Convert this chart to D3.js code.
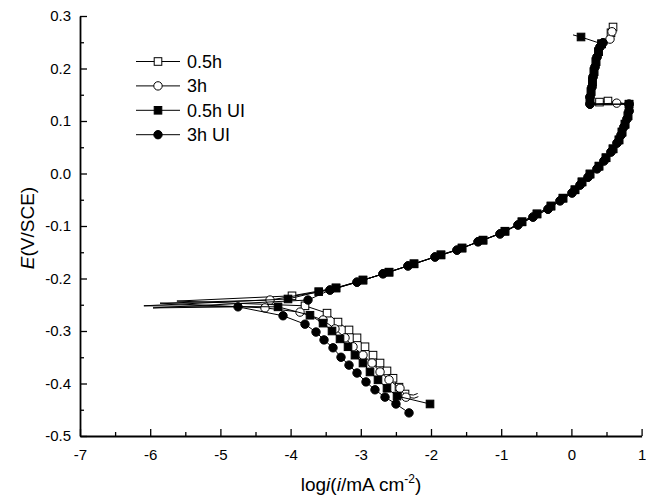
<!DOCTYPE html>
<html>
<head>
<meta charset="utf-8">
<script src="https://cdn.jsdelivr.net/npm/d3@7/dist/d3.min.js"></script>
<style>
  html, body { margin: 0; padding: 0; background: #fff; }
  svg { display: block; }
  text { font-family: "Liberation Sans", Arial, sans-serif; fill: #000; }
</style>
</head>
<body>
<svg id="chart" width="646" height="496"></svg>
<script>
// Axis ticks
const xTicks = [-7, -6, -5, -4, -3, -2, -1, 0, 1];
const xMinor = [-6.5, -5.5, -4.5, -3.5, -2.5, -1.5, -0.5, 0.5];
const yTicks = [-0.5, -0.4, -0.3, -0.2, -0.1, 0.0, 0.1, 0.2, 0.3];
const yMinor = [-0.45, -0.35, -0.25, -0.15, -0.05, 0.05, 0.15, 0.25];

// Points are [log i, E]
// Anodic branch, circle-marked runs (3h, 3h UI)
const anodCircles = [
  [-3.439, -0.222], [-3.054, -0.207], [-2.684, -0.191], [-2.328, -0.176],
  [-1.943, -0.159], [-1.630, -0.146], [-1.330, -0.130], [-1.017, -0.115],
  [-0.761, -0.098], [-0.547, -0.083], [-0.333, -0.068], [-0.162, -0.052],
  [0.009, -0.037], [0.123, -0.022], [0.237, -0.007], [0.365, 0.009],
  [0.464, 0.024], [0.564, 0.041], [0.650, 0.058], [0.707, 0.073],
  [0.749, 0.089], [0.792, 0.104], [0.821, 0.119], [0.821, 0.132]
];
// Anodic branch, square-marked runs (0.5h, 0.5h UI)
const anodSquares = [
  [-3.353, -0.218], [-2.969, -0.203], [-2.598, -0.188], [-2.242, -0.172],
  [-1.858, -0.155], [-1.558, -0.142], [-1.259, -0.127], [-0.946, -0.110],
  [-0.704, -0.092], [-0.490, -0.077], [-0.291, -0.062], [-0.120, -0.047],
  [0.051, -0.031], [0.151, -0.016], [0.265, -0.001], [0.393, 0.014],
  [0.493, 0.030], [0.593, 0.047], [0.678, 0.064], [0.721, 0.079],
  [0.764, 0.094], [0.806, 0.110], [0.821, 0.132]
];
// Vertical rise after the current drop
const columnCircles = [
  [0.265, 0.132], [0.265, 0.146], [0.293, 0.165], [0.308, 0.184],
  [0.336, 0.203], [0.365, 0.222], [0.407, 0.241], [0.450, 0.249]
];
const columnSquares = [
  [0.265, 0.139], [0.280, 0.156], [0.300, 0.175], [0.322, 0.194],
  [0.350, 0.213], [0.386, 0.232], [0.430, 0.247]
];

// 0.5h
const cath05 = [
  [-3.795, -0.252], [-3.481, -0.266], [-3.325, -0.283], [-3.168, -0.298],
  [-3.054, -0.313], [-2.940, -0.330], [-2.826, -0.346], [-2.726, -0.361],
  [-2.627, -0.376], [-2.541, -0.390], [-2.456, -0.407], [-2.370, -0.420]
];
const tail05 = [[-2.25, -0.422], [-2.19, -0.419]];
const tip05 = [-5.62, -0.243];
const start05 = [[-3.980, -0.233]];
const knee05 = [[0.521, 0.138], [0.400, 0.136]];
const end05 = [[0.564, 0.268], [0.593, 0.279]];

// 3h
const cath3 = [
  [-4.365, -0.256], [-3.866, -0.264], [-3.538, -0.279], [-3.368, -0.296],
  [-3.225, -0.313], [-3.111, -0.330], [-2.969, -0.346], [-2.840, -0.361],
  [-2.726, -0.378], [-2.598, -0.393], [-2.442, -0.409], [-2.356, -0.426]
];
const tail3 = [[-2.24, -0.428], [-2.18, -0.425]];
const tip3 = [-5.86, -0.247];
const start3 = [[-4.293, -0.241]];
const knee3 = [[0.645, 0.134]];
const end3 = [[0.550, 0.256], [0.578, 0.270]];

// 0.5h UI
const cath05UI = [
  [-4.179, -0.254], [-3.724, -0.270], [-3.538, -0.285], [-3.410, -0.300],
  [-3.296, -0.315], [-3.182, -0.330], [-3.083, -0.346], [-2.969, -0.361],
  [-2.869, -0.378], [-2.755, -0.393], [-2.627, -0.409], [-2.484, -0.424],
  [-2.014, -0.439]
];
const tail05UI = [];
const tip05UI = [-6.09, -0.252];
const start05UI = [[-4.037, -0.239], [-3.60, -0.225]];
const knee05UI = [];
const end05UI = [[0.137, 0.260]];
const endTail05UI = [[0.023, 0.264]];

// 3h UI
const cath3UI = [
  [-4.749, -0.254], [-4.108, -0.271], [-3.795, -0.287], [-3.638, -0.302],
  [-3.524, -0.317], [-3.396, -0.332], [-3.282, -0.350], [-3.168, -0.365],
  [-3.054, -0.380], [-2.926, -0.397], [-2.798, -0.412], [-2.655, -0.426],
  [-2.499, -0.439], [-2.313, -0.456]
];
const tail3UI = [];
const tip3UI = [-5.96, -0.256];
const start3UI = [[-3.752, -0.241]];
const knee3UI = [];
const end3UI = [];

const seriesNames = ["0.5h", "3h", "0.5h UI", "3h UI"];
const seriesShapes = ["square", "circle", "square", "circle"];
const seriesFilled = [false, false, true, true];

const series = [
  { cath: cath05, tail: tail05, tip: tip05, start: start05, anod: anodSquares, knee: knee05, col: columnSquares, end: end05, endTail: [] },
  { cath: cath3, tail: tail3, tip: tip3, start: start3, anod: anodCircles, knee: knee3, col: columnCircles, end: end3, endTail: [] },
  { cath: cath05UI, tail: tail05UI, tip: tip05UI, start: start05UI, anod: anodSquares, knee: knee05UI, col: columnSquares, end: end05UI, endTail: endTail05UI },
  { cath: cath3UI, tail: tail3UI, tip: tip3UI, start: start3UI, anod: anodCircles, knee: knee3UI, col: columnCircles, end: end3UI, endTail: [] }
].map((s, i) => {
  const marked = [].concat(s.cath, s.start, s.anod, s.knee, s.col, s.end);
  const path = [].concat(
    s.tail.slice().reverse(), s.cath.slice().reverse(), [s.tip],
    s.start, s.anod, s.knee, [[0.265, 0.132]], s.col, s.end, s.endTail
  );
  return { name: seriesNames[i], shape: seriesShapes[i], filled: seriesFilled[i], marked, path };
});

const W = 646, H = 496;
const x = d3.scaleLinear().domain([-7, 1]).range([80, 641.6]);
const y = d3.scaleLinear().domain([-0.5, 0.3]).range([436, 16]);

const svg = d3.select("#chart");
svg.append("rect").attr("width", W).attr("height", H).attr("fill", "#fff");

// Axes with inward ticks
svg.append("g").attr("transform", `translate(0,${y(-0.5)})`)
  .call(d3.axisBottom(x).tickValues(xTicks).tickSize(-7).tickSizeOuter(0)
    .tickPadding(13).tickFormat(d => String(d)));
const gxm = svg.append("g").attr("transform", `translate(0,${y(-0.5)})`)
  .call(d3.axisBottom(x).tickValues(xMinor).tickSize(-4).tickSizeOuter(0).tickFormat(""));
gxm.select(".domain").remove();

svg.append("g").attr("transform", `translate(${x(-7)},0)`)
  .call(d3.axisLeft(y).tickValues(yTicks).tickSize(-7).tickSizeOuter(0)
    .tickPadding(9).tickFormat(d => d.toFixed(1)));
const gym = svg.append("g").attr("transform", `translate(${x(-7)},0)`)
  .call(d3.axisLeft(y).tickValues(yMinor).tickSize(-4).tickSizeOuter(0).tickFormat(""));
gym.select(".domain").remove();

svg.selectAll(".domain").attr("stroke", "#000").attr("stroke-width", 1.8);
svg.selectAll(".tick line").attr("stroke", "#000").attr("stroke-width", 1.3);
svg.selectAll(".tick text").attr("font-size", 15)
  .attr("font-family", '"Liberation Sans", Arial, sans-serif').attr("fill", "#000");

// Axis titles
const xt = svg.append("text").attr("x", 361).attr("y", 491)
  .attr("text-anchor", "middle").attr("font-size", 19);
xt.append("tspan").text("log");
xt.append("tspan").attr("font-style", "italic").text("i");
xt.append("tspan").text("(");
xt.append("tspan").attr("font-style", "italic").text("i");
xt.append("tspan").text("/mA cm");
xt.append("tspan").attr("font-size", 12).attr("dy", -8).text("-2");
xt.append("tspan").attr("dy", 8).text(")");

const yt = svg.append("text")
  .attr("transform", `translate(34,228) rotate(-90)`)
  .attr("text-anchor", "middle").attr("font-size", 19);
yt.append("tspan").attr("font-style", "italic").text("E");
yt.append("tspan").text("(V/SCE)");

// Curves
const line = d3.line().x(d => x(d[0])).y(d => y(d[1]));
const SQ = 7.6, R = 4.2;

function drawMarker(g, shape, filled, px, py) {
  if (shape === "square") {
    g.append("rect").attr("x", px - SQ / 2).attr("y", py - SQ / 2)
      .attr("width", SQ).attr("height", SQ)
      .attr("fill", filled ? "#000" : "#fff").attr("stroke", "#000").attr("stroke-width", 1);
  } else {
    g.append("circle").attr("cx", px).attr("cy", py).attr("r", R)
      .attr("fill", filled ? "#000" : "#fff").attr("stroke", "#000").attr("stroke-width", 1);
  }
}

series.forEach(s => {
  const g = svg.append("g");
  g.append("path").datum(s.path).attr("d", line)
    .attr("fill", "none").attr("stroke", "#000").attr("stroke-width", 1);
  s.marked.forEach(d => drawMarker(g, s.shape, s.filled, x(d[0]), y(d[1])));
});

// Legend
const legend = svg.append("g");
series.forEach((s, i) => {
  const ly = 61.5 + i * 24.4;
  legend.append("line").attr("x1", 136).attr("x2", 180).attr("y1", ly).attr("y2", ly)
    .attr("stroke", "#000").attr("stroke-width", 1);
  drawMarker(legend, s.shape, s.filled, 158, ly);
  legend.append("text").attr("x", 187).attr("y", ly).attr("dy", "0.36em")
    .attr("font-size", 18).text(s.name);
});
</script>
</body>
</html>
